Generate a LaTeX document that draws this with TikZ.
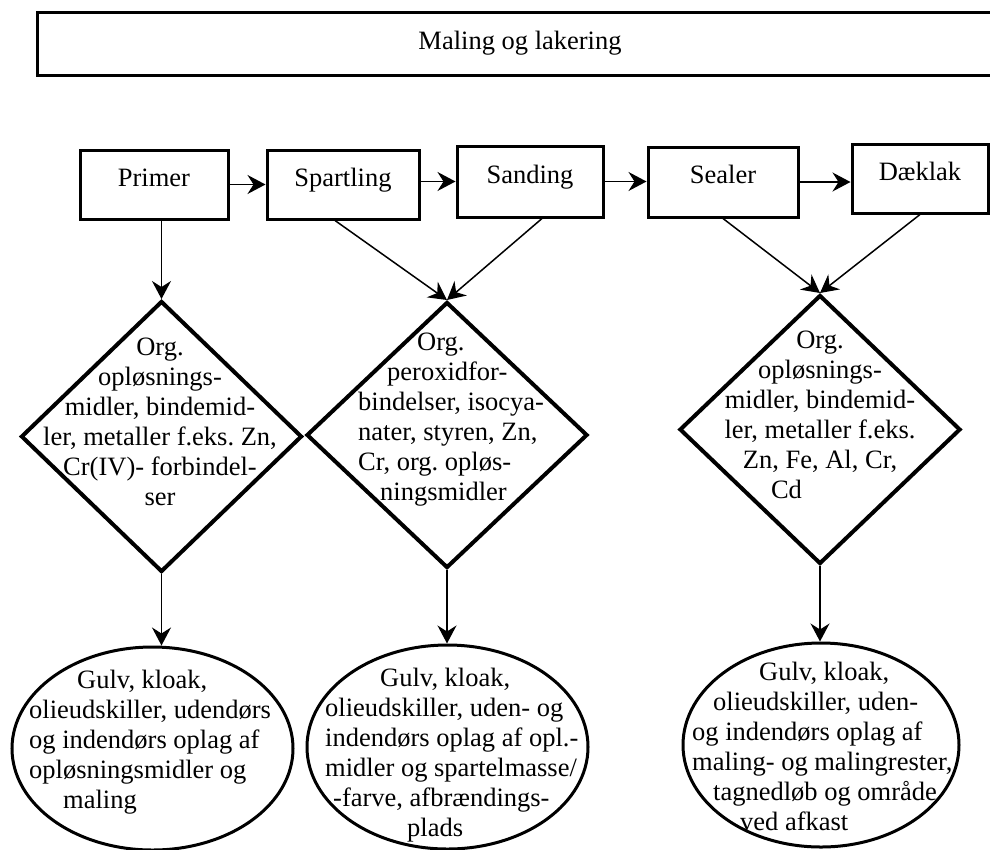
\documentclass[tikz,border=0pt]{standalone}
\usepackage{fontspec}
\setmainfont{Liberation Serif}
\usetikzlibrary{arrows.meta,shapes.geometric,calc}
\frenchspacing
\begin{document}
\begin{tikzpicture}[x=1pt,y=-1pt,
  every node/.style={font=\fontsize{26.5}{30}\selectfont},
  stepbox/.style={draw,line width=3pt,inner sep=0,text height=18pt,text depth=15pt},
  dia/.style={draw,diamond,line width=4pt,inner sep=0,minimum width=281pt,minimum height=270pt},
  ell/.style={draw,ellipse,line width=3pt,inner sep=0,minimum width=281pt,minimum height=204pt},
  txt/.style={inner sep=0},
  arr/.style={line width=1.5pt,-{Stealth[length=18pt,width=19pt,inset=6pt]}}]
\useasboundingbox (0,0) rectangle (990,849);
\clip (0,0) rectangle (990,849);
\fill[white] (0,0) rectangle (990,849);

\node[draw,line width=3pt,minimum width=966pt,minimum height=63pt,inner sep=0] (title) at (520,43.5) {\frenchspacing Maling og lakering};

\node[stepbox,minimum width=148pt,minimum height=69pt] (primer) at (154,184.5) {Primer};
\node[stepbox,minimum width=152pt,minimum height=69pt] (spart) at (343,184.5) {Spartling};
\node[stepbox,minimum width=146pt,minimum height=71pt] (sand) at (530,181.5) {Sanding};
\node[stepbox,minimum width=150pt,minimum height=70pt] (seal) at (723,182) {Sealer};
\node[stepbox,minimum width=136pt,minimum height=69pt] (daek) at (920,178.5) {Dæklak};

\node[dia,minimum height=271pt] (d1) at (161.5,436.5) {};
\node[dia,minimum height=266pt] (d2) at (447,435) {};
\node[dia,minimum height=269pt] (d3) at (820,429.5) {};

\node[ell,minimum height=203pt] (e1) at (152.5,748.5) {};
\node[ell] (e2) at (447.5,747) {};
\node[ell,minimum width=276pt] (e3) at (821,745) {};

\node[txt,align=center] (d1t) at (160,422) {\frenchspacing Org.\\opløsnings-\\midler, bindemid-\\ler, metaller f.eks. Zn,\\Cr(IV)- forbindel-\\ser};
\node[txt,align=left,anchor=west] (d2t) at (358,420) {\frenchspacing\hspace*{59pt}Org.\\\hspace*{29pt}peroxidfor-\\bindelser, isocya-\\nater, styren, Zn,\\Cr, org. opløs-\\\hspace*{22pt}ningsmidler};
\node[txt,align=center] (d3t) at (820,415) {\frenchspacing Org.\\opløsnings-\\midler, bindemid-\\ler, metaller f.eks.\\Zn, Fe, Al, Cr,\\\makebox[98pt][l]{Cd}};

\node[txt,align=left,anchor=west] (e1t) at (29,742.5) {\hspace*{48pt}Gulv, kloak,\\olieudskiller, udendørs\\og indendørs oplag af\\opløsningsmidler og\\\hspace*{34pt}maling};
\node[txt,align=left,anchor=west] (e2t) at (325,755) {\frenchspacing\hspace*{55pt}Gulv, kloak,\\olieudskiller, uden- og\\indendørs oplag af opl.-\\midler og spartelmasse/\\\hspace*{8pt}-farve, afbrændings-\\\hspace*{82pt}plads};
\node[txt,align=left,anchor=west] (e3t) at (692,746) {\hspace*{67pt}Gulv, kloak,\\\hspace*{21pt}olieudskiller, uden-\\og indendørs oplag af\\maling- og malingrester,\\\hspace*{21pt}tagnedløb og område\\\hspace*{48pt}ved afkast};

\draw[arr] (primer.east) -- (spart.west);
\draw[arr] (spart.east |- sand.west) -- (sand.west);
\draw[arr] (sand.east) -- (sand.east -| seal.west);
\draw[arr] (seal.east) -- (seal.east -| daek.west);

\draw[arr] (d1.north |- primer.south) -- (d1.north);
\draw[arr] ([xshift=-8pt]spart.south) -- (d2.north);
\draw[arr] ([xshift=12pt]sand.south) -- (d2.north);
\draw[arr] (seal.south) -- (d3.north);
\draw[arr] (daek.south) -- (d3.north);

\draw[arr] (d1.south) -- (d1.south |- e1.north);
\draw[arr] (d2.south) -- (d2.south |- e2.north);
\draw[arr] (d3.south) -- (d3.south |- e3.north);
\end{tikzpicture}
\end{document}
